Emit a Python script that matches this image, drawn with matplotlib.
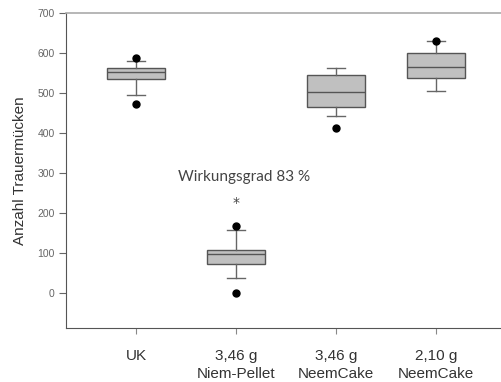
import matplotlib
matplotlib.use("Agg")
import matplotlib.pyplot as plt

categories = ["UK", "3,46 g\nNiem-Pellet", "3,46 g\nNeemCake", "2,10 g\nNeemCake"]
q1 = [535, 73, 464, 538]
medians = [552, 96, 503, 565]
q3 = [563, 107, 544, 600]
whislo = [495, 38, 442, 504]
whishi = [580, 158, 563, 629]
fliers = [[587, 472], [167, 0], [412], [631]]
annotation = "Wirkungsgrad 83 %"
star_value = 225
text_value = 290
yticks = [0, 100, 200, 300, 400, 500, 600, 700]

fig = plt.figure(figsize=(5.02, 3.82), dpi=100)
ax = fig.add_axes([65.7/502, (382-328)/382, (502-65.7)/502, (328-13)/382])

stats = []
for i in range(len(categories)):
    stats.append(dict(med=medians[i], q1=q1[i], q3=q3[i], whislo=whislo[i],
                      whishi=whishi[i], fliers=fliers[i]))

pos = list(range(1, len(categories)+1))
ax.bxp(stats, positions=pos, widths=0.58, patch_artist=True,
       boxprops=dict(facecolor="#c0c0c0", edgecolor="#555555", linewidth=1.0),
       medianprops=dict(color="#555555", linewidth=1.0),
       whiskerprops=dict(color="#666666", linewidth=1.0),
       capprops=dict(color="#666666", linewidth=1.0),
       capwidths=0.18,
       flierprops=dict(marker="o", markerfacecolor="black", markeredgecolor="black", markersize=5))

ax.set_xlim(0.297, 4.66)
ax.set_ylim(-88, 700)
ax.set_yticks(yticks)
ax.set_xticks(pos)
ax.set_xticklabels(categories, fontsize=11, color="#333333", family="Liberation Sans", linespacing=1.35)
for lab in ax.get_yticklabels():
    lab.set_fontsize(7.5)
    lab.set_color("#666666")
    lab.set_family("Liberation Sans")
ax.tick_params(axis="y", length=5, color="#666666", pad=3)
ax.tick_params(axis="x", length=4, color="#888888", pad=11)

ax.spines["right"].set_visible(False)
ax.spines["top"].set_color("#aaaaaa")
ax.spines["left"].set_color("#555555")
ax.spines["bottom"].set_color("#555555")
ax.spines["top"].set_linewidth(1.2)

ax.set_ylabel("Anzahl Trauermücken", fontsize=11, color="#333333", family="Liberation Sans", labelpad=7)

ax.text(2.08, text_value, annotation, fontsize=11, color="#444444", family="Lato", ha="center", va="center")
ax.text(2.0, star_value, "*", fontsize=10, color="#444444", ha="center", va="center")

fig.savefig("out.png", dpi=100)
